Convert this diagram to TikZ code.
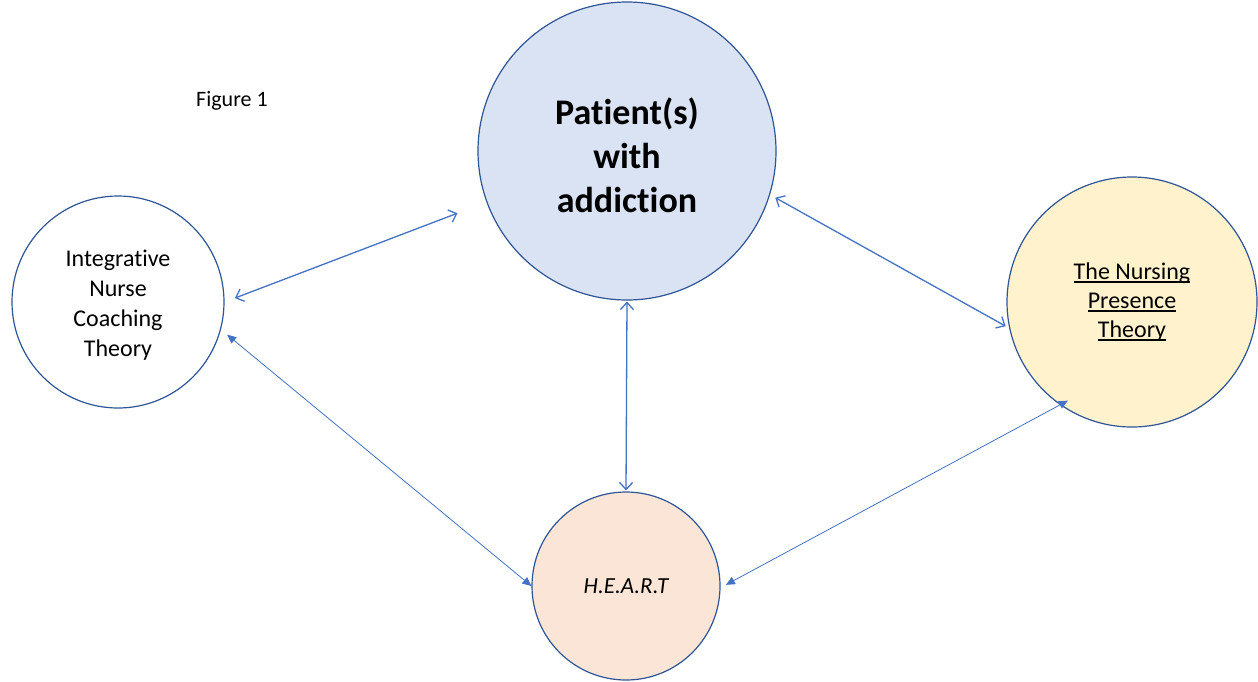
\documentclass[tikz,border=0pt]{standalone}
\usepackage{fontspec}
\setmainfont{Carlito}[Ligatures={NoCommon,NoContextual}]
\usetikzlibrary{arrows.meta}
\definecolor{bord}{HTML}{2F5597}
\definecolor{arr}{HTML}{4472C4}
\definecolor{pblue}{HTML}{DAE3F3}
\definecolor{pyel}{HTML}{FFF2CC}
\definecolor{ppink}{HTML}{FBE5D6}
\newcommand\ulx[1]{\leavevmode\setbox0\hbox{#1}\rlap{\rule[-3.2pt]{\wd0}{1.3pt}}\box0}
\tikzset{
  circ/.style={circle, draw=bord, line width=1.2pt, inner sep=0pt, align=center},
  openarr/.style={draw=arr, line width=1.3pt, {Straight Barb[length=7pt,width=13pt]}-{Straight Barb[length=7pt,width=13pt]}},
  thinarr/.style={draw=arr, line width=0.8pt, {Triangle[length=9pt,width=8pt]}-{Triangle[length=9pt,width=8pt]}},
}
\begin{document}
\begin{tikzpicture}[x=1pt,y=-1pt]
\useasboundingbox[fill=white] (0,0) rectangle (1258,681);
\node[font=\fontsize{22}{26}\selectfont] (fig) at (232,101) {Figure 1};
\node[circ, fill=pblue, minimum size=298pt, font=\fontsize{36}{44}\selectfont\bfseries] (pat) at (627,151) {\rule{0pt}{6pt}\\[-14pt]Patient(s)\\with\\addiction};
\node[circ, fill=white, minimum size=212pt, font=\fontsize{24}{30}\selectfont] (int) at (118,302) {\rule{0pt}{6pt}\\[-14pt]Integrative\\Nurse\\Coaching\\Theory};
\node[circ, fill=pyel, minimum size=250pt, font=\fontsize{24}{29}\selectfont] (nur) at (1132,302) {\ulx{The Nursing}\\\ulx{Presence}\\\ulx{Theory}};
\node[circ, fill=ppink, minimum size=188pt, font=\fontsize{23}{28}\selectfont\itshape] (hea) at (626,586) {H.E.A.R.T};
\draw[openarr, shorten <=11pt, shorten >=31pt] (int.0) -- (pat.200);
\draw[openarr, shorten <=1pt, shorten >=1pt] (pat.south) -- (hea.north);
\draw[openarr, shorten <=6pt, shorten >=4pt] (pat.-17) -- (nur.192);
\draw[thinarr, shorten <=8pt] (int.-15) -- (hea.180);
\draw[thinarr, shorten <=-9pt, shorten >=6pt] (nur.235) -- (hea.-1);
\end{tikzpicture}
\end{document}
